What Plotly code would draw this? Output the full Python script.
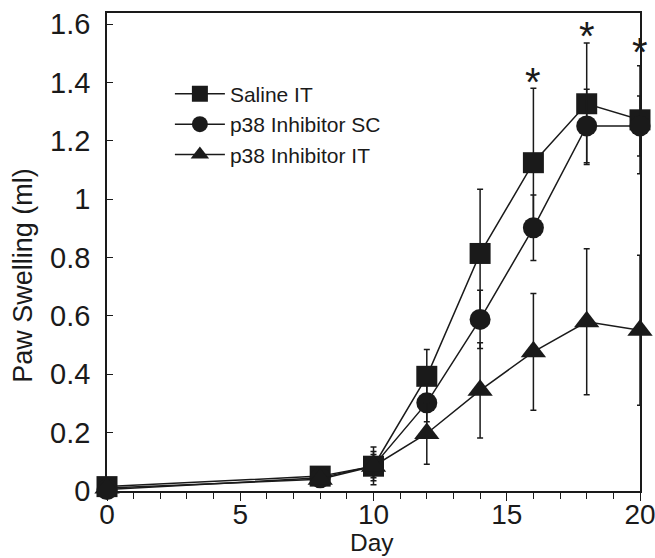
import plotly.graph_objects as go

# ---- data ----
days = [0, 8, 10, 12, 14, 16, 18, 20]

saline_it = [0.015, 0.051, 0.085, 0.393, 0.814, 1.125, 1.327, 1.272]
saline_it_err = [0.0, 0.02, 0.05, 0.092, 0.22, 0.255, 0.208, 0.185]

p38_sc = [0.005, 0.045, 0.086, 0.302, 0.588, 0.902, 1.251, 1.251]
p38_sc_err = [0.0, 0.02, 0.065, 0.065, 0.10, 0.112, 0.126, 0.103]

p38_it = [0.010, 0.040, 0.085, 0.197, 0.345, 0.477, 0.580, 0.551]
p38_it_err = [0.0, 0.015, 0.04, 0.105, 0.163, 0.20, 0.25, 0.257]

series_names = ["Saline IT", "p38 Inhibitor SC", "p38 Inhibitor IT"]

sig_days = [16, 18, 20]
sig_y = [1.42, 1.575, 1.523]

x_ticks = [0, 5, 10, 15, 20]
y_ticks = [0, 0.2, 0.4, 0.6, 0.8, 1.0, 1.2, 1.4, 1.6]

INK = "#1a1a1a"
FONT = "Liberation Sans, Arial, sans-serif"

fig = go.Figure()

specs = [
    (saline_it, saline_it_err, "square", 21),
    (p38_sc, p38_sc_err, "circle", 21),
    (p38_it, p38_it_err, "triangle-up", 22),
]

for name, (vals, errs, sym, sz) in zip(series_names, specs):
    fig.add_trace(go.Scatter(
        x=days, y=vals, name=name, mode="lines+markers",
        line=dict(color=INK, width=1.5),
        marker=dict(symbol=sym, size=sz, color=INK, line=dict(width=0)),
        error_y=dict(type="data", array=errs, visible=True,
                     color=INK, thickness=1.5, width=3),
        cliponaxis=False,
    ))

for d, yv in zip(sig_days, sig_y):
    fig.add_annotation(x=d, y=yv, text="*", showarrow=False,
                       font=dict(family=FONT, size=40, color=INK),
                       xanchor="center", yanchor="middle", yshift=-5)

# axis titles as annotations (positioned like the reference)
fig.add_annotation(xref="paper", yref="paper", x=-0.158, y=0.452,
                   text="Paw Swelling (ml)", textangle=-90, showarrow=False,
                   font=dict(family=FONT, size=27, color=INK),
                   xanchor="center", yanchor="middle")
fig.add_annotation(xref="paper", yref="paper", x=0.497, y=-0.1085,
                   text="Day", showarrow=False,
                   font=dict(family=FONT, size=24.5, color=INK),
                   xanchor="center", yanchor="middle")

fig.update_layout(
    width=655, height=558,
    margin=dict(l=106.5, r=15, t=13.3, b=67.3, autoexpand=False),
    paper_bgcolor="white", plot_bgcolor="white",
    font=dict(family=FONT, size=29, color=INK),
    showlegend=True,
    legend=dict(x=0.118, y=0.873, xanchor="left", yanchor="top",
                bgcolor="rgba(0,0,0,0)", font=dict(size=21),
                itemsizing="trace", itemwidth=50, tracegroupgap=0),
)

fig.update_xaxes(
    range=[0, 20], tickvals=x_ticks, ticks="outside", ticklen=8,
    tickwidth=1.2, tickcolor=INK,
    minor=dict(dtick=1, ticks="outside", ticklen=6, tickwidth=1, tickcolor=INK),
    showline=True, linecolor=INK, linewidth=1.5, mirror=True,
    showgrid=False, zeroline=False,
    tickfont=dict(size=28), ticklabelstandoff=-10, ticklabeloverflow="allow",
)
fig.update_yaxes(
    range=[0, 1.638], tickvals=y_ticks, ticks="inside", ticklen=6,
    tickwidth=1.2, tickcolor=INK,
    showline=True, linecolor=INK, linewidth=1.5, mirror=True,
    showgrid=False, zeroline=False,
    tickfont=dict(size=29), ticklabelstandoff=9, ticklabeloverflow="allow",
)

fig.write_html(
    "out.html",
    config={"displayModeBar": False},
    post_script="document.body.style.margin='0';"
                "document.documentElement.style.overflow='hidden';",
)
